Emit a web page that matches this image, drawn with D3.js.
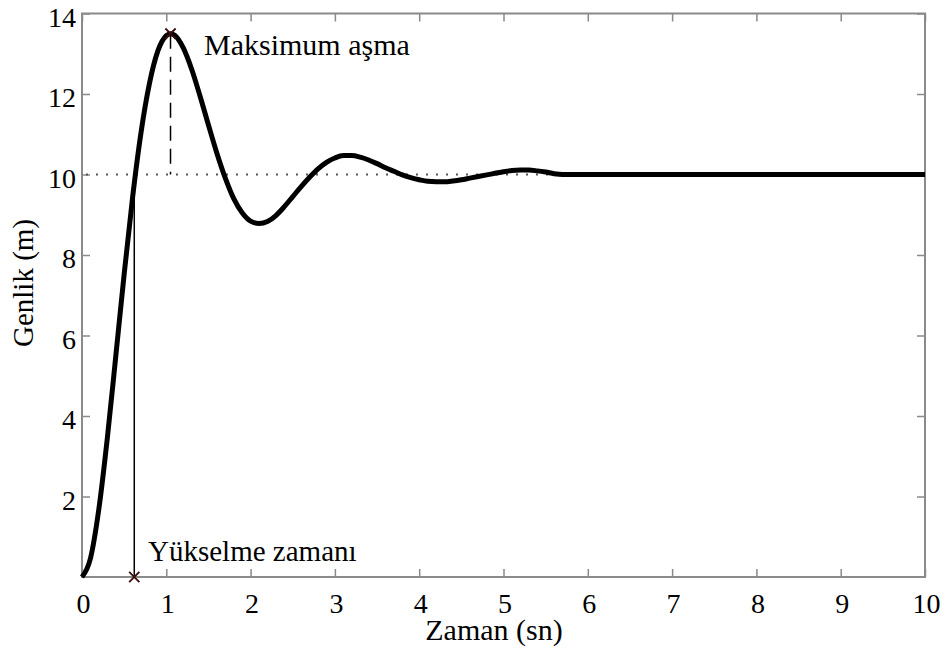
<!DOCTYPE html>
<html>
<head>
<meta charset="utf-8">
<script src="https://cdn.jsdelivr.net/npm/d3@7"></script>
<style>
  html, body { margin: 0; padding: 0; background: #fff; }
  svg { display: block; }
  text { font-family: 'Liberation Serif', 'Times New Roman', Times, 'DejaVu Serif', serif; fill: #000; }
</style>
</head>
<body>
<svg id="chart" width="949" height="655"></svg>
<script>
// ---- Data ----
const time = [0, 0.1, 0.2, 0.3, 0.4, 0.5, 0.6, 0.7, 0.8, 0.9, 1.0, 1.05, 1.1, 1.2, 1.3, 1.4, 1.5, 1.6, 1.7, 1.8, 1.9,
  2.0, 2.1, 2.2, 2.3, 2.4, 2.5, 2.6, 2.7, 2.8, 2.9, 3.0, 3.1, 3.2, 3.3, 3.4, 3.5, 3.6, 3.7, 3.8, 3.9,
  4.0, 4.1, 4.2, 4.3, 4.4, 4.5, 4.6, 4.7, 4.8, 4.9, 5.0, 5.1, 5.2, 5.3, 5.4, 5.5, 5.6, 5.7, 10];
const amplitude = [0, 0.46, 1.69, 3.44, 5.47, 7.52, 9.43, 11.04, 12.26, 13.07, 13.45, 13.5, 13.46, 13.15, 12.62, 11.95, 11.23, 10.53, 9.91, 9.40, 9.05,
  8.84, 8.78, 8.83, 8.98, 9.20, 9.45, 9.70, 9.93, 10.14, 10.30, 10.41, 10.47, 10.47, 10.43, 10.36, 10.27, 10.17, 10.08, 9.99, 9.92,
  9.87, 9.83, 9.82, 9.82, 9.84, 9.87, 9.91, 9.95, 9.99, 10.03, 10.07, 10.10, 10.11, 10.11, 10.09, 10.06, 10.02, 10.00, 10.00];
const finalValue = 10;
const peakPoint = [1.05, 13.5];      // Maksimum aşma
const risePoint = [0.62, 9.7];       // Yükselme zamanı (line top)
const xTicks = [0, 1, 2, 3, 4, 5, 6, 7, 8, 9, 10];
const yTicks = [2, 4, 6, 8, 10, 12, 14];
const xLabel = "Zaman (sn)";
const yLabel = "Genlik (m)";
const peakLabel = "Maksimum aşma";
const riseLabel = "Yükselme zamanı";

// ---- Layout ----
const FONT = "'Liberation Serif', 'Times New Roman', Times, 'DejaVu Serif', serif";
const svg = d3.select("#chart");
const x = d3.scaleLinear().domain([0, 10]).range([82, 925]);
const y = d3.scaleLinear().domain([0, 14]).range([577, 13.5]);
const axisColor = "#8a8a8a";
const fs = 28;

function styleAxis(g) {
  g.attr("font-family", null).attr("font-size", null);
  g.selectAll(".domain").remove();
  g.selectAll(".tick line").attr("stroke", axisColor).attr("stroke-width", 1.5);
  g.selectAll("text").attr("font-family", FONT).style("font-family", FONT)
    .style("font-size", fs + "px").attr("fill", "#000");
}

// bottom
const gb = svg.append("g").attr("transform", `translate(0,${y(0)})`)
  .call(d3.axisBottom(x).tickValues(xTicks).tickFormat(d3.format("d")).tickSize(-8).tickSizeOuter(0));
styleAxis(gb);
gb.selectAll("text").attr("y", 0).attr("dy", 0).attr("transform", "translate(1,36)");

// top
const gt = svg.append("g").attr("transform", `translate(0,${y(14)})`)
  .call(d3.axisTop(x).tickValues(xTicks).tickFormat("").tickSize(-8).tickSizeOuter(0));
styleAxis(gt);

// left
const gl = svg.append("g").attr("transform", `translate(${x(0)},0)`)
  .call(d3.axisLeft(y).tickValues(yTicks).tickFormat(d3.format("d")).tickSize(-8).tickSizeOuter(0));
styleAxis(gl);
gl.selectAll("text").attr("x", -6).attr("dy", "0.45em");

// right
const gr = svg.append("g").attr("transform", `translate(${x(10)},0)`)
  .call(d3.axisRight(y).tickValues(yTicks).tickFormat("").tickSize(-8).tickSizeOuter(0));
styleAxis(gr);

// box
svg.append("rect")
  .attr("x", x(0)).attr("y", y(14))
  .attr("width", x(10) - x(0)).attr("height", y(0) - y(14))
  .attr("fill", "none").attr("stroke", axisColor).attr("stroke-width", 2);

// dotted reference line at final value
svg.append("line")
  .attr("x1", x(0) + 4).attr("x2", x(10))
  .attr("y1", y(finalValue)).attr("y2", y(finalValue))
  .attr("stroke", "#555").attr("stroke-width", 2).attr("stroke-dasharray", "2,8");

// dashed line from peak down to final value
svg.append("line")
  .attr("x1", x(peakPoint[0])).attr("x2", x(peakPoint[0]))
  .attr("y1", y(peakPoint[1])).attr("y2", y(finalValue))
  .attr("stroke", "#000").attr("stroke-width", 1.5).attr("stroke-dasharray", "15,8");

// rise time vertical line
svg.append("line")
  .attr("x1", x(risePoint[0])).attr("x2", x(risePoint[0]))
  .attr("y1", y(0)).attr("y2", y(risePoint[1]))
  .attr("stroke", "#000").attr("stroke-width", 1.5);

// response curve
const pts = time.map((t, i) => [t, amplitude[i]]);
const line = d3.line().x(d => x(d[0])).y(d => y(d[1])).curve(d3.curveMonotoneX);
svg.append("path").datum(pts).attr("d", line)
  .attr("fill", "none").attr("stroke", "#2a2aff").attr("stroke-width", 1.5);
svg.append("path").datum(pts).attr("d", line)
  .attr("fill", "none").attr("stroke", "#000").attr("stroke-width", 5)
  .attr("stroke-linejoin", "round");

// x markers
const cross = d3.symbol().type(d3.symbolX).size(70);
[[peakPoint[0], peakPoint[1]], [risePoint[0], 0]].forEach(p => {
  svg.append("path").attr("d", cross)
    .attr("transform", `translate(${x(p[0])},${y(p[1])})`)
    .attr("fill", "none").attr("stroke", "#3a0c0c").attr("stroke-width", 1.8);
});

// annotations
function addText(attrs, str, size) {
  const t = svg.append("text").attr("font-family", FONT).style("font-family", FONT).style("font-size", size + "px");
  Object.entries(attrs).forEach(([k, v]) => t.attr(k, v));
  return t.text(str);
}
addText({x: 204, y: 55}, peakLabel, 30);
addText({x: 148, y: 561}, riseLabel, 29);

// axis labels
addText({x: 494, y: 640, "text-anchor": "middle"}, xLabel, 30);
addText({transform: `translate(33,283) rotate(-90)`, "text-anchor": "middle"}, yLabel, 29);
</script>
</body>
</html>
